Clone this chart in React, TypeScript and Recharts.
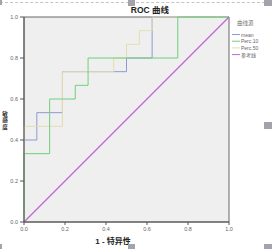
import React from 'react';
import { LineChart, Line, XAxis, YAxis, ReferenceArea } from 'recharts';

// ROC points: counts of false positives (out of 16) and true positives (out of 15)
const NEG_TOTAL = 16;
const POS_TOTAL = 15;
const meanFp = [0, 1, 3, 8, 10, 16];
const meanTp = [0, 6, 8, 11, 12, 15];
const perc10Fp = [0, 2, 4, 5, 12, 16];
const perc10Tp = [0, 5, 9, 10, 12, 15];
const perc50Fp = [0, 3, 7, 8, 9, 10, 16];
const perc50Tp = [0, 7, 11, 12, 13, 14, 15];
const refX = [0, 1];
const refY = [0, 1];
const axisTicks = [0, 0.2, 0.4, 0.6, 0.8, 1.0];
const seriesNames = ['mean', 'Perc.10', 'Perc.50', '参考线'];
const seriesColors = ['#8c9ad6', '#6fd07a', '#e4dcb0', '#c064d4'];
const chartTitle = 'ROC 曲线';
const xLabel = '1 - 特异性';
const yLabelChars = ['敏', '感', '度'];
const legendTitle = '曲线源';

const toPts = (fp: number[], tp: number[]) =>
  fp.map((f, i) => ({ x: f / NEG_TOTAL, y: tp[i] / POS_TOTAL }));
const meanData = toPts(meanFp, meanTp);
const p10Data = toPts(perc10Fp, perc10Tp);
const p50Data = toPts(perc50Fp, perc50Tp);
const refData = refX.map((x, i) => ({ x, y: refY[i] }));

const FONT = '"Liberation Sans", Arial, "Noto Sans CJK SC", sans-serif';

const Square = ({ l, t, w, h }: { l: number; t: number; w: number; h: number }) => (
  <div style={{ position: 'absolute', left: l, top: t, width: w, height: h, background: '#a3a3ab' }} />
);

export default function App() {
  return (
    <div style={{ position: 'absolute', left: 0, top: 0, width: 272, height: 249, background: '#fff', fontFamily: FONT, overflow: 'hidden' }}>
      <div style={{ position: 'absolute', left: 0, top: 2, width: 265, borderTop: '1px dashed #c4c4c4' }} />
      <LineChart width={272} height={249} margin={{ top: 17, right: 43, bottom: 0, left: 0 }}>
        <XAxis
          dataKey="x"
          type="number"
          domain={[0, 1]}
          ticks={axisTicks}
          tickFormatter={(v: number) => v.toFixed(1)}
          height={27}
          tickSize={3}
          tick={{ fontSize: 5.5, fill: '#666', fontFamily: FONT }}
          stroke="#555"
          allowDuplicatedCategory={false}
        />
        <YAxis
          dataKey="y"
          type="number"
          domain={[0, 1]}
          ticks={axisTicks}
          tickFormatter={(v: number) => v.toFixed(1)}
          width={24}
          tickSize={4}
          tick={{ fontSize: 5.5, fill: '#666', fontFamily: FONT }}
          stroke="#555"
        />
        <ReferenceArea x1={0} x2={1} y1={0} y2={1} fill="#efefef" fillOpacity={1} stroke="#666" strokeWidth={1} ifOverflow="visible" />
        <Line data={meanData} dataKey="y" type="stepBefore" stroke={seriesColors[0]} strokeWidth={1} dot={false} isAnimationActive={false} name={seriesNames[0]} />
        <Line data={p50Data} dataKey="y" type="stepBefore" stroke={seriesColors[2]} strokeWidth={1} dot={false} isAnimationActive={false} name={seriesNames[2]} />
        <Line data={p10Data} dataKey="y" type="stepBefore" stroke={seriesColors[1]} strokeWidth={1} dot={false} isAnimationActive={false} name={seriesNames[1]} />
        <Line data={refData} dataKey="y" type="linear" stroke={seriesColors[3]} strokeWidth={1.2} dot={false} isAnimationActive={false} name={seriesNames[3]} />
      </LineChart>
      <svg width={272} height={249} style={{ position: 'absolute', left: 0, top: 0, pointerEvents: 'none' }}>
        <text x={150} y={13} textAnchor="middle" fontSize={8.5} fontWeight="bold" fill="#222" fontFamily={FONT}>{chartTitle}</text>
        <text x={113} y={244} textAnchor="middle" fontSize={8} fontWeight="bold" fill="#222" fontFamily={FONT}>{xLabel}</text>
        {yLabelChars.map((c, i) => (
          <text key={c} x={5} y={115.5 + i * 6.6} textAnchor="middle" fontSize={5.6} fontWeight="bold" fill="#333" fontFamily={FONT}>{c}</text>
        ))}
        <text x={237} y={25} fontSize={5.5} fill="#777" fontFamily={FONT}>{legendTitle}</text>
        {seriesNames.map((n, i) => (
          <g key={n}>
            <line x1={232} x2={240} y1={34.5 + i * 6.7} y2={34.5 + i * 6.7} stroke={seriesColors[i]} strokeWidth={1} />
            <text x={241} y={36.5 + i * 6.7} fontSize={5} fill="#666" fontFamily={FONT}>{n}</text>
          </g>
        ))}
      </svg>
      <Square l={0} t={0} w={2} h={5} />
      <Square l={128} t={0} w={7} h={6} />
      <Square l={264} t={0} w={8} h={6} />
      <Square l={264} t={122} w={8} h={7} />
      <Square l={0} t={244} w={2} h={5} />
      <Square l={128} t={244} w={7} h={5} />
      <Square l={264} t={244} w={8} h={5} />
    </div>
  );
}
